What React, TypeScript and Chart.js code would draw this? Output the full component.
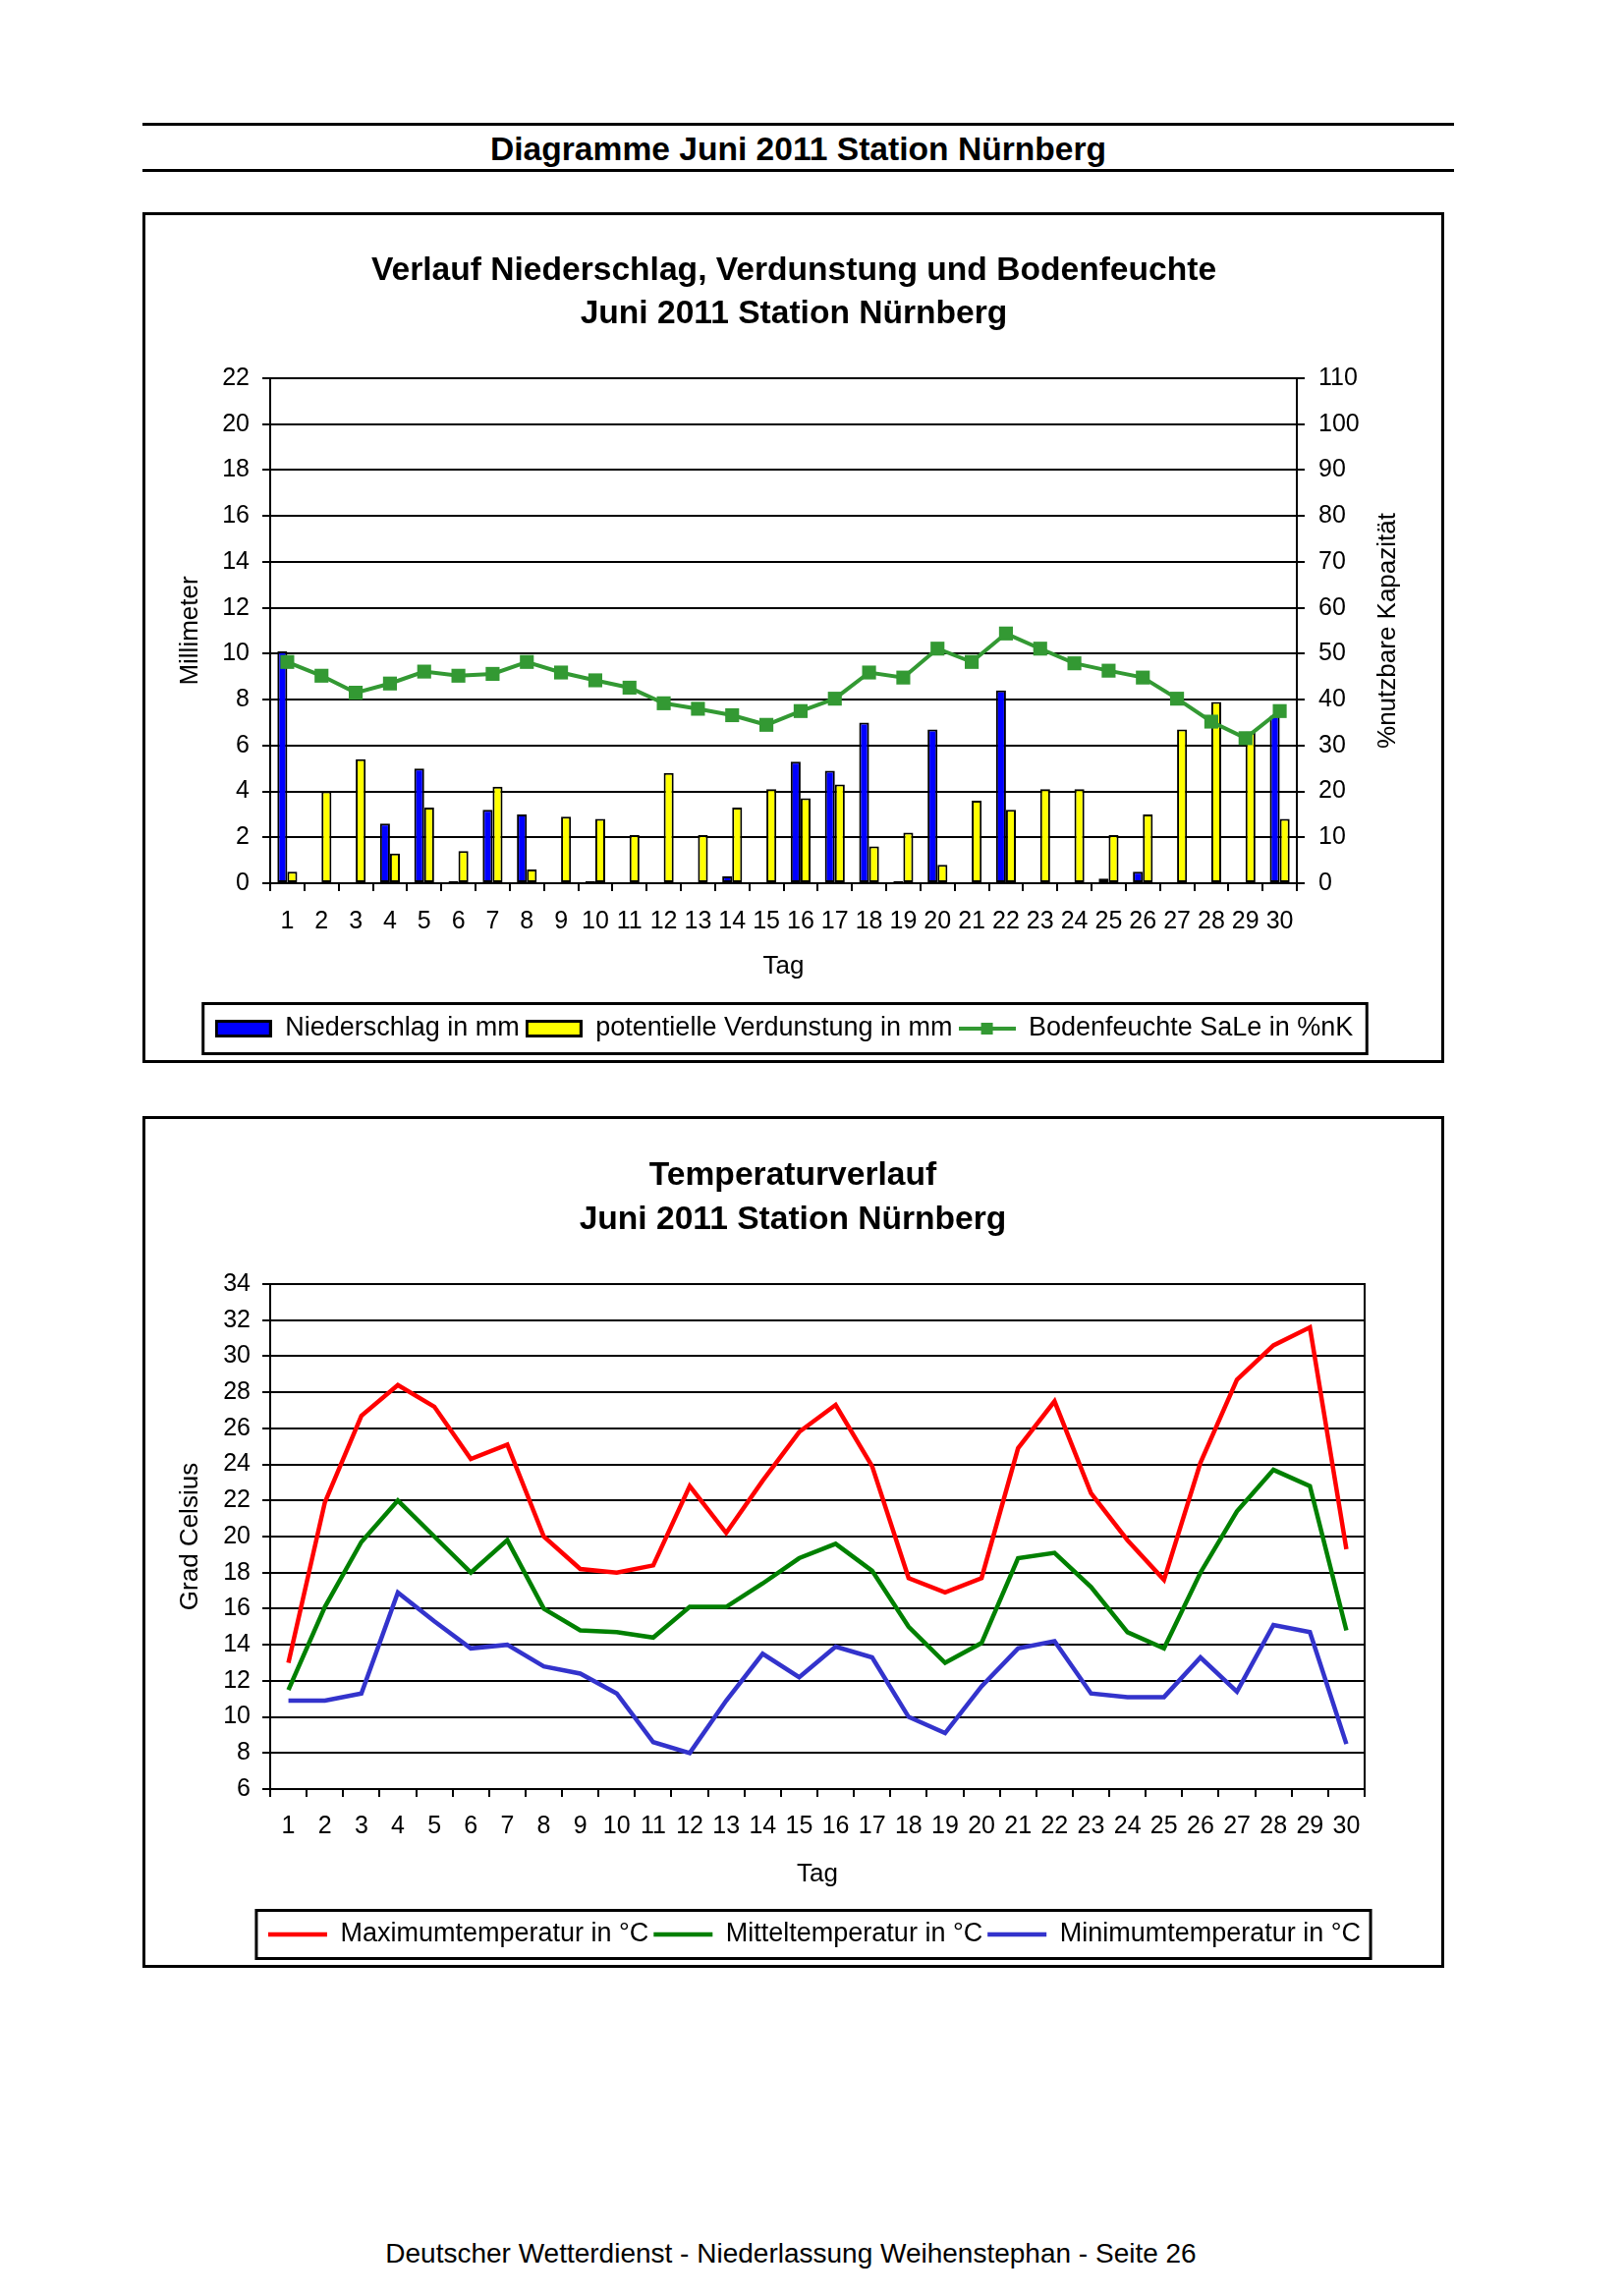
import React, { useEffect, useRef } from "react";
import { Chart, registerables } from "chart.js";

Chart.register(...registerables);

const FONT = "'Liberation Sans', Arial, Helvetica, sans-serif";
Chart.defaults.font.family = FONT;
Chart.defaults.color = "#000";

// ---------- data ----------
const days = ["1", "2", "3", "4", "5", "6", "7", "8", "9", "10", "11", "12", "13", "14", "15",
  "16", "17", "18", "19", "20", "21", "22", "23", "24", "25", "26", "27", "28", "29", "30"];

const niederschlag = [10.1, 0, 0, 2.6, 5.0, 0.1, 3.2, 3.0, 0, 0.1, 0, 0, 0, 0.3, 0,
  5.3, 4.9, 7.0, 0.1, 6.7, 0, 8.4, 0, 0, 0.2, 0.5, 0, 0, 0, 7.3];
const verdunstung = [0.5, 4.0, 5.4, 1.3, 3.3, 1.4, 4.2, 0.6, 2.9, 2.8, 2.1, 4.8, 2.1, 3.3, 4.1,
  3.7, 4.3, 1.6, 2.2, 0.8, 3.6, 3.2, 4.1, 4.1, 2.1, 3.0, 6.7, 7.9, 6.6, 2.8];
const bodenfeuchte = [48.2, 45.2, 41.5, 43.5, 46.1, 45.2, 45.6, 48.2, 45.9, 44.2, 42.6, 39.2, 38.0, 36.6, 34.5,
  37.5, 40.2, 45.9, 44.8, 51.1, 48.2, 54.4, 51.1, 47.9, 46.3, 44.8, 40.2, 35.2, 31.6, 37.5];

const tMax = [13.0, 21.9, 26.7, 28.4, 27.2, 24.3, 25.1, 20.0, 18.2, 18.0, 18.4, 22.8, 20.2, 23.1, 25.8,
  27.3, 23.9, 17.7, 16.9, 17.7, 24.9, 27.5, 22.4, 19.8, 17.6, 24.1, 28.7, 30.6, 31.6, 19.3];
const tMittel = [11.5, 16.1, 19.7, 22.0, 20.0, 18.0, 19.8, 16.0, 14.8, 14.7, 14.4, 16.1, 16.1, 17.4, 18.8,
  19.6, 18.1, 15.0, 13.0, 14.1, 18.8, 19.1, 17.2, 14.7, 13.8, 18.0, 21.4, 23.7, 22.8, 14.8];
const tMin = [10.9, 10.9, 11.3, 16.9, 15.3, 13.8, 14.0, 12.8, 12.4, 11.3, 8.6, 8.0, 10.9, 13.5, 12.2,
  13.9, 13.3, 10.0, 9.1, 11.7, 13.8, 14.2, 11.3, 11.1, 11.1, 13.3, 11.4, 15.1, 14.7, 8.5];

const seriesLabels1 = ["Niederschlag in mm", "potentielle Verdunstung in mm", "Bodenfeuchte SaLe in %nK"];
const seriesLabels2 = ["Maximumtemperatur in °C", "Mitteltemperatur in °C", "Minimumtemperatur in °C"];
const title1 = ["Verlauf Niederschlag, Verdunstung und Bodenfeuchte", "Juni 2011 Station Nürnberg"];
const title2 = ["Temperaturverlauf", "Juni 2011 Station Nürnberg"];

// ---------- helpers ----------
function makeSwatch(fill: string) {
  const c = document.createElement("canvas");
  c.width = 58; c.height = 18;
  const g = c.getContext("2d")!;
  g.fillStyle = "#000"; g.fillRect(0, 0, 58, 18);
  g.fillStyle = fill; g.fillRect(3, 3, 52, 12);
  return c;
}
function makeLineMarker(color: string) {
  const c = document.createElement("canvas");
  c.width = 58; c.height = 14;
  const g = c.getContext("2d")!;
  g.strokeStyle = color; g.lineWidth = 4;
  g.beginPath(); g.moveTo(0, 7); g.lineTo(58, 7); g.stroke();
  g.fillStyle = color; g.fillRect(23, 1, 12, 12);
  return c;
}

function legendFrame(padL: number, padR: number, halfH: number) {
  return {
    id: "legendFrame",
    afterDraw(chart: any) {
      const lg = chart.legend;
      const hb = lg && lg.legendHitBoxes;
      if (!hb || !hb.length) return;
      const left = hb[0].left - padL;
      const last = hb[hb.length - 1];
      const right = last.left + last.width + padR;
      const cy = hb[0].top + hb[0].height / 2;
      const ctx = chart.ctx;
      ctx.save();
      ctx.strokeStyle = "#000";
      ctx.lineWidth = 3;
      ctx.strokeRect(left, cy - halfH, right - left, 2 * halfH);
      ctx.restore();
    },
  };
}

// shift the chart title horizontally (title and legend are centred differently in the original)
function titleShift(dx: number) {
  return {
    id: "titleShift",
    afterLayout(chart: any) {
      const t = chart.titleBlock;
      if (t) { t.left += dx; t.right += dx; }
    },
  };
}

const rightTitle = {
  id: "rightTitle",
  afterDraw(chart: any) {
    const { ctx, chartArea } = chart;
    const s = chart.scales.y1;
    ctx.save();
    ctx.translate(s.left + 93, (chartArea.top + chartArea.bottom) / 2);
    ctx.rotate(-Math.PI / 2);
    ctx.font = `26px ${FONT}`;
    ctx.fillStyle = "#000";
    ctx.textAlign = "center";
    ctx.textBaseline = "middle";
    ctx.fillText("%nutzbare Kapazität", 0, 0);
    ctx.restore();
  },
};

const gridBlack = { color: "#000", lineWidth: 2, tickLength: 8 };
const borderBlack = { display: true, color: "#000", width: 2 };

// ---------- charts ----------
function PrecipChart() {
  const ref = useRef<HTMLCanvasElement>(null);
  useEffect(() => {
    const imgs = [makeSwatch("#0000ff"), makeSwatch("#ffff00"), makeLineMarker("#339933")];
    const chart = new Chart(ref.current!, {
      type: "bar",
      data: {
        labels: days,
        datasets: [
          {
            type: "bar", label: seriesLabels1[0], data: niederschlag,
            backgroundColor: "#0000ff", borderColor: "#000", borderWidth: 2, borderSkipped: false,
            yAxisID: "y", order: 1, categoryPercentage: 0.58, barPercentage: 1,
          },
          {
            type: "bar", label: seriesLabels1[1], data: verdunstung,
            backgroundColor: "#ffff00", borderColor: "#000", borderWidth: 2, borderSkipped: false,
            yAxisID: "y", order: 1, categoryPercentage: 0.58, barPercentage: 1,
          },
          {
            type: "line", label: seriesLabels1[2], data: bodenfeuchte,
            borderColor: "#339933", backgroundColor: "#339933", borderWidth: 4,
            pointStyle: "rect", pointRadius: 10, pointBorderWidth: 0, pointBackgroundColor: "#339933",
            yAxisID: "y1", order: 0, tension: 0,
          },
        ] as any,
      },
      options: {
        animation: false,
        responsive: false,
        maintainAspectRatio: false,
        layout: { padding: { left: 0, right: 19, top: 0, bottom: 8.5 } },
        plugins: {
          tooltip: { enabled: false },
          title: {
            display: true, text: title1, color: "#000",
            font: { size: 33.6, weight: "bold", lineHeight: 44 / 33.6 },
            padding: { top: 35, bottom: 43 },
          },
          legend: {
            position: "bottom",
            labels: {
              usePointStyle: true, pointStyleWidth: 58, padding: 6,
              font: { size: 27 }, color: "#000",
              generateLabels: (ch: any) =>
                ch.data.datasets.map((ds: any, i: number) => ({
                  text: ds.label, pointStyle: imgs[i], datasetIndex: i, hidden: false,
                  fillStyle: ds.backgroundColor, strokeStyle: "#000", lineWidth: 0,
                })),
            },
          },
        },
        scales: {
          x: {
            offset: true,
            grid: { ...gridBlack, offset: true, drawOnChartArea: false, drawTicks: true },
            border: borderBlack,
            ticks: { font: { size: 25 }, padding: 16, autoSkip: false, maxRotation: 0, minRotation: 0 },
            title: { display: true, text: "Tag", font: { size: 26 }, padding: { top: 0, bottom: 28 } },
            afterFit: (s: any) => { s.height = 128.5; },
          },
          y: {
            position: "left", min: 0, max: 22,
            grid: { ...gridBlack },
            border: borderBlack,
            ticks: { stepSize: 2, font: { size: 25 }, padding: 13 },
            title: { display: true, text: "Millimeter", font: { size: 26 }, padding: { top: 30.4, bottom: 0 } },
            afterFit: (s: any) => { s.width = 127; },
          },
          y1: {
            position: "right", min: 0, max: 110,
            grid: { ...gridBlack, drawOnChartArea: false },
            border: borderBlack,
            ticks: { stepSize: 10, font: { size: 25 }, padding: 14 },
            afterFit: (s: any) => { s.width = 128; },
          },
        },
      } as any,
      plugins: [legendFrame(12, 14, 25.5), rightTitle, titleShift(10)],
    });
    return () => chart.destroy();
  }, []);
  return (
    <canvas ref={ref} width={1319} height={860}
      style={{ position: "absolute", left: 148, top: 219, width: 1319, height: 860 }} />
  );
}

function TempChart() {
  const ref = useRef<HTMLCanvasElement>(null);
  useEffect(() => {
    const chart = new Chart(ref.current!, {
      type: "line",
      data: {
        labels: days,
        datasets: [
          { label: seriesLabels2[0], data: tMax, borderColor: "#ff0000", backgroundColor: "#ff0000" },
          { label: seriesLabels2[1], data: tMittel, borderColor: "#008000", backgroundColor: "#008000" },
          { label: seriesLabels2[2], data: tMin, borderColor: "#3333cc", backgroundColor: "#3333cc" },
        ].map((d) => ({ ...d, borderWidth: 4.5, pointRadius: 0, pointStyle: "line", tension: 0, fill: false, yAxisID: "y" })) as any,
      },
      options: {
        animation: false,
        responsive: false,
        maintainAspectRatio: false,
        layout: { padding: { left: 43, right: 0, top: 0, bottom: 7.5 } },
        plugins: {
          tooltip: { enabled: false },
          title: {
            display: true, text: title2, color: "#000",
            font: { size: 33.6, weight: "bold", lineHeight: 44.5 / 33.6 },
            padding: { top: 35.75, bottom: 43.25 },
          },
          legend: {
            position: "bottom",
            labels: { usePointStyle: true, pointStyleWidth: 60, padding: 5, font: { size: 27 }, color: "#000" },
          },
        },
        scales: {
          x: {
            offset: true,
            grid: { ...gridBlack, offset: true, drawOnChartArea: false, drawTicks: true },
            border: borderBlack,
            ticks: { font: { size: 25 }, padding: 15, autoSkip: false, maxRotation: 0, minRotation: 0 },
            title: { display: true, text: "Tag", font: { size: 26 }, padding: { top: 0, bottom: 26.9 } },
            afterFit: (s: any) => { s.height = 129.5; },
          },
          y: {
            position: "left", min: 6, max: 34,
            grid: { ...gridBlack },
            border: borderBlack,
            ticks: { stepSize: 2, font: { size: 25 }, padding: 12 },
            title: { display: true, text: "Grad Celsius", font: { size: 26 }, padding: { top: -12.6, bottom: 0 } },
            afterFit: (s: any) => { s.width = 84; },
          },
          yR: {
            type: "linear", position: "right", display: true,
            grid: { display: false, drawTicks: false },
            ticks: { display: false },
            border: borderBlack,
            afterFit: (s: any) => { s.width = 78; },
          },
        },
      } as any,
      plugins: [legendFrame(12, 10, 24.5), titleShift(-22)],
    });
    return () => chart.destroy();
  }, []);
  return (
    <canvas ref={ref} width={1319} height={861}
      style={{ position: "absolute", left: 148, top: 1139, width: 1319, height: 861 }} />
  );
}

export default function App() {
  return (
    <div style={{ position: "absolute", left: 0, top: 0, width: 1653, height: 2337, background: "#fff", fontFamily: FONT, color: "#000" }}>
      <div style={{ position: "absolute", left: 145, top: 125, width: 1335, height: 3, background: "#000" }} />
      <div style={{ position: "absolute", left: 145, top: 131.5, width: 1335, height: 40, lineHeight: "40px", textAlign: "center", fontSize: 33.6, fontWeight: "bold" }}>
        Diagramme Juni 2011 Station Nürnberg
      </div>
      <div style={{ position: "absolute", left: 145, top: 172, width: 1335, height: 3, background: "#000" }} />

      <div style={{ position: "absolute", left: 145, top: 216, width: 1325, height: 866, border: "3px solid #000", boxSizing: "border-box" }} />
      <PrecipChart />

      <div style={{ position: "absolute", left: 145, top: 1136, width: 1325, height: 867, border: "3px solid #000", boxSizing: "border-box" }} />
      <TempChart />

      <div style={{ position: "absolute", left: 0, top: 2279, width: 1610, height: 30, lineHeight: "30px", textAlign: "center", fontSize: 28 }}>
        Deutscher Wetterdienst - Niederlassung Weihenstephan - Seite 26
      </div>
    </div>
  );
}
